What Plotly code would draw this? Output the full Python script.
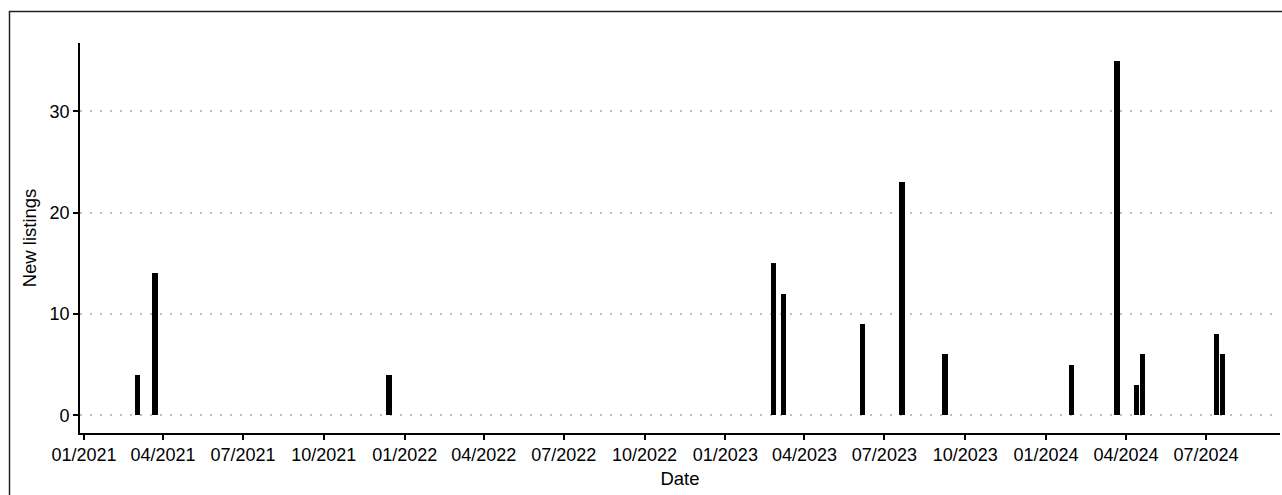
import plotly.graph_objects as go

# ---- data ----
listing_dates = [
    "2021-03-03", "2021-03-23", "2021-12-14",
    "2023-02-25", "2023-03-08", "2023-06-06", "2023-07-21", "2023-09-08",
    "2024-01-30", "2024-03-22", "2024-04-13", "2024-04-20",
    "2024-07-13", "2024-07-20",
]
new_listings = [4, 14, 4, 15, 12, 9, 23, 6, 5, 35, 3, 6, 8, 6]

x_tick_dates = [
    "2021-01-01", "2021-04-01", "2021-07-01", "2021-10-01",
    "2022-01-01", "2022-04-01", "2022-07-01", "2022-10-01",
    "2023-01-01", "2023-04-01", "2023-07-01", "2023-10-01",
    "2024-01-01", "2024-04-01", "2024-07-01",
]
x_tick_labels = [
    "01/2021", "04/2021", "07/2021", "10/2021",
    "01/2022", "04/2022", "07/2022", "10/2022",
    "01/2023", "04/2023", "07/2023", "10/2023",
    "01/2024", "04/2024", "07/2024",
]
y_tick_vals = [0, 10, 20, 30]

BAR_WIDTH_MS = 6.3 * 24 * 3600 * 1000
FONT = "Liberation Sans, Arial, sans-serif"

PLOT_L, PLOT_R, PLOT_T, PLOT_B = 80, 1280, 43, 433
FIG_W, FIG_H = 1282, 495

fig = go.Figure()
fig.add_trace(go.Bar(
    x=listing_dates,
    y=new_listings,
    width=[BAR_WIDTH_MS] * len(new_listings),
    marker=dict(color="black", line=dict(width=0)),
    showlegend=False,
))

fig.update_layout(
    width=FIG_W, height=FIG_H, autosize=False,
    margin=dict(l=PLOT_L, r=FIG_W - PLOT_R, t=PLOT_T, b=FIG_H - PLOT_B),
    paper_bgcolor="white", plot_bgcolor="white",
    font=dict(family=FONT, color="black", size=18),
    bargap=0,
)

fig.update_xaxes(
    type="date",
    range=["2020-12-27 11:00", "2024-09-23 07:00"],
    tickvals=x_tick_dates, ticktext=x_tick_labels,
    showgrid=False, zeroline=False,
    showline=True, linecolor="black", linewidth=1.6,
    ticks="outside", ticklen=5, tickwidth=1.6, tickcolor="black",
    tickfont=dict(size=18, color="black", family=FONT),
    title=dict(text="Date", font=dict(size=18.5, color="black", family=FONT), standoff=8),
)

fig.update_yaxes(
    range=[-1.75, 36.75],
    tickvals=y_tick_vals,
    showgrid=True, gridcolor="#bdbdbd", gridwidth=2, griddash="2px,8px",
    zeroline=False,
    showline=True, linecolor="black", linewidth=1.6,
    ticks="outside", ticklen=5, tickwidth=1.6, tickcolor="black",
    tickfont=dict(size=18, color="black", family=FONT),
    title=dict(text="New listings", font=dict(size=18.5, color="black", family=FONT), standoff=8),
)

# outer frame (extends past the right and bottom edges like the reference)
pw, ph = PLOT_R - PLOT_L, PLOT_B - PLOT_T
fig.add_shape(
    type="rect", xref="paper", yref="paper",
    x0=(9.5 - PLOT_L) / pw, x1=(1300 - PLOT_L) / pw,
    y0=(PLOT_B - 520) / ph, y1=(PLOT_B - 11.5) / ph,
    line=dict(color="#222222", width=1.5), fillcolor="rgba(0,0,0,0)",
    layer="above",
)

fig.write_html(
    "out.html",
    config={"displayModeBar": False},
    post_script="document.body.style.margin='0';document.body.style.overflow='hidden';",
)
